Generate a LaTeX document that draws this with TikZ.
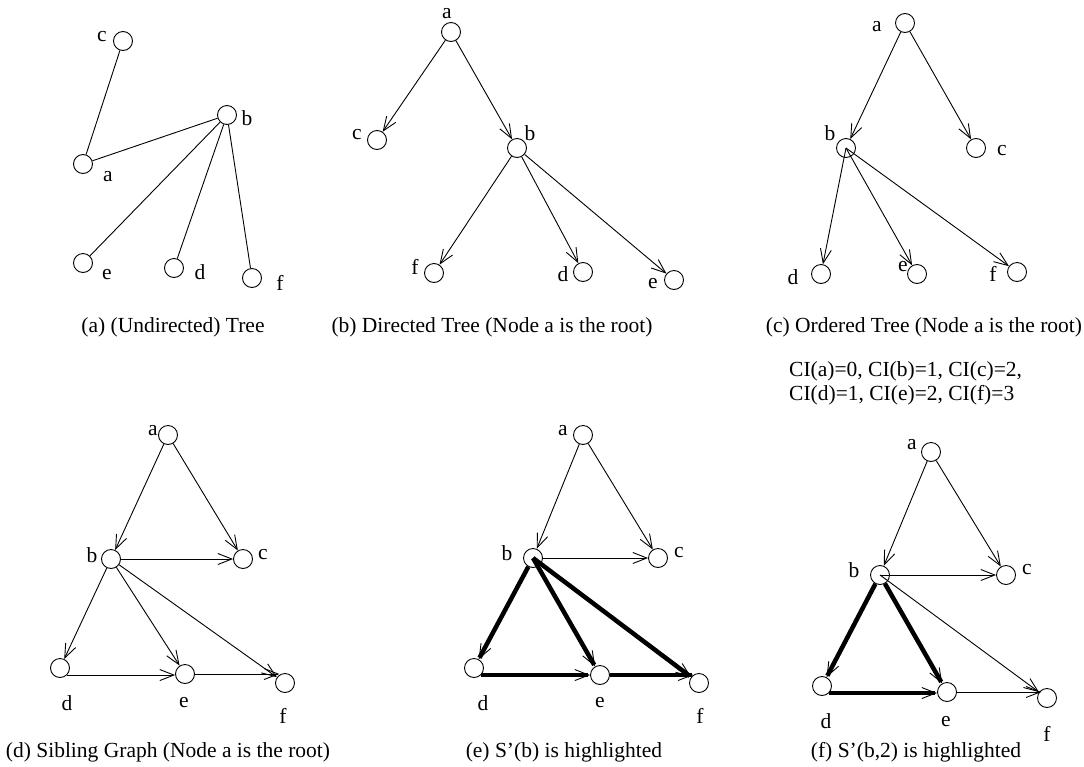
\documentclass[tikz,border=0pt]{standalone}
\usepackage{fontspec}
\setmainfont{Liberation Serif}
\usetikzlibrary{arrows.meta}
\begin{document}
\begin{tikzpicture}[x=1pt,y=-1pt,
  vx/.style={circle,draw,minimum size=19pt,inner sep=0pt,line width=0.9pt},
  lbl/.style={inner sep=0pt,font=\fontsize{21.5}{24}\selectfont},
  captxt/.style={inner sep=0pt,font=\fontsize{21.5}{24}\selectfont},
  ln/.style={line width=0.9pt},
  arr/.style={line width=0.9pt,-{Straight Barb[length=14pt,width=11pt,line width=0.9pt]}},
  tarr/.style={line width=4.5pt,-{Straight Barb[length=14pt,width=11pt,line width=0.9pt]}}]
\useasboundingbox (0,0) rectangle (1084,766);

% (a)
\node[vx] (A-c) at (123,41) {};
\node[vx] (A-b) at (227,115) {};
\node[vx] (A-a) at (83,164) {};
\node[vx] (A-e) at (83,263) {};
\node[vx] (A-d) at (174,268) {};
\node[vx] (A-f) at (252,278) {};
\node[lbl] (A-lc) at (102,37) {c};
\node[lbl] (A-lb) at (247,118) {b};
\node[lbl] (A-la) at (108,177) {a};
\node[lbl] (A-le) at (107,275) {e};
\node[lbl] (A-ld) at (200,272) {d};
\node[lbl] (A-lf) at (280,283) {f};
\draw[ln] (A-c) -- (A-a);
\draw[ln] (A-a) -- (A-b);
\draw[ln] (A-b) -- (A-e);
\draw[ln] (A-b) -- (A-d);
\draw[ln] (A-b) -- (A-f);
\node[captxt] (A-cap) at (173,327) {(a) (Undirected) Tree};

% (b)
\node[vx] (B-a) at (451,32) {};
\node[vx] (B-c) at (377,140) {};
\node[vx] (B-b) at (517,148) {};
\node[vx] (B-f) at (434,273) {};
\node[vx] (B-d) at (583,272) {};
\node[vx] (B-e) at (674,280) {};
\node[lbl] (B-la) at (447,14) {a};
\node[lbl] (B-lc) at (357,135) {c};
\node[lbl] (B-lb) at (530,133) {b};
\node[lbl] (B-lf) at (415,267) {f};
\node[lbl] (B-ld) at (563,274) {d};
\node[lbl] (B-le) at (653,284) {e};
\draw[arr] (B-a) -- (B-c);
\draw[arr] (B-a) -- (B-b);
\draw[arr] (B-b) -- (B-f);
\draw[arr] (B-b) -- (B-d);
\draw[arr] (B-b) -- (B-e);
\node[captxt] (B-cap) at (492,327) {(b) Directed Tree (Node a is the root)};

% (c)
\node[vx] (C-a) at (905,23) {};
\node[vx] (C-b) at (846,148) {};
\node[vx] (C-c) at (976,148) {};
\node[vx] (C-d) at (821,274) {};
\node[vx] (C-e) at (917,274) {};
\node[vx] (C-f) at (1017,272) {};
\node[lbl] (C-la) at (877,27) {a};
\node[lbl] (C-lb) at (830,133) {b};
\node[lbl] (C-lc) at (1002,151) {c};
\node[lbl] (C-ld) at (793,277) {d};
\node[lbl] (C-le) at (903,267) {e};
\node[lbl] (C-lf) at (993,274) {f};
\draw[arr] (C-a) -- (C-b);
\draw[arr] (C-a) -- (C-c);
\draw[arr] (C-b.center) -- (C-d);
\draw[arr] (C-b.center) -- (C-e);
\draw[arr] (C-b.center) -- (C-f);
\node[captxt] (C-cap) at (924,327) {(c) Ordered Tree (Node a is the root)};
\node[captxt,anchor=west] (C-ci1) at (789,371) {CI(a)=0, CI(b)=1, CI(c)=2,};
\node[captxt,anchor=west] (C-ci2) at (789,395) {CI(d)=1, CI(e)=2, CI(f)=3};

% (d)
\node[vx] (D-a) at (168,435) {};
\node[vx] (D-b) at (111,559) {};
\node[vx] (D-c) at (243,559) {};
\node[vx] (D-d) at (60,668) {};
\node[vx] (D-e) at (185,674) {};
\node[vx] (D-f) at (285,683) {};
\node[lbl] (D-la) at (153,431) {a};
\node[lbl] (D-lb) at (92,555) {b};
\node[lbl] (D-lc) at (263,555) {c};
\node[lbl] (D-ld) at (67,703) {d};
\node[lbl] (D-le) at (184,703) {e};
\node[lbl] (D-lf) at (283,716) {f};
\draw[arr] (D-a) -- (D-b);
\draw[arr] (D-a) -- (D-c);
\draw[arr] (D-b) -- (D-c);
\draw[arr] (D-b) -- (D-d);
\draw[arr] (D-b) -- (D-e);
\draw[arr] (D-b) -- (D-f);
\draw[arr] (D-d.-45) -- (D-d.-45 -| D-e.west);
\draw[arr] (D-e.east) -- (D-e.east -| D-f.125);
\node[captxt] (D-cap) at (168,752) {(d) Sibling Graph (Node a is the root)};

% (e)
\node[vx] (E-a) at (583,435) {};
\node[vx] (E-b) at (533,558) {};
\node[vx] (E-c) at (658,558) {};
\node[vx] (E-d) at (474,668) {};
\node[vx] (E-e) at (600,675) {};
\node[vx] (E-f) at (699,683) {};
\node[lbl] (E-la) at (563,431) {a};
\node[lbl] (E-lb) at (507,553) {b};
\node[lbl] (E-lc) at (679,553) {c};
\node[lbl] (E-ld) at (483,703) {d};
\node[lbl] (E-le) at (600,703) {e};
\node[lbl] (E-lf) at (700,716) {f};
\draw[arr] (E-a) -- (E-b);
\draw[arr] (E-a) -- (E-c);
\draw[arr] (E-b) -- (E-c);
\draw[tarr] (E-b) -- (E-d);
\draw[tarr] (E-b.center) -- (E-e);
\draw[tarr] (E-b.center) -- (E-f);
\draw[tarr] (E-d.-45) -- (E-d.-45 -| E-e.west);
\draw[tarr] (E-e.east) -- (E-e.east -| E-f.125);
\node[captxt] (E-cap) at (564,752) {(e) S’(b) is highlighted};

% (f)
\node[vx] (F-a) at (931,452) {};
\node[vx] (F-b) at (880,575) {};
\node[vx] (F-c) at (1006,575) {};
\node[vx] (F-d) at (822,686) {};
\node[vx] (F-e) at (947,692) {};
\node[vx] (F-f) at (1047,698) {};
\node[lbl] (F-la) at (912,445) {a};
\node[lbl] (F-lb) at (854,570) {b};
\node[lbl] (F-lc) at (1027,570) {c};
\node[lbl] (F-ld) at (826,721) {d};
\node[lbl] (F-le) at (946,722) {e};
\node[lbl] (F-lf) at (1047,734) {f};
\draw[arr] (F-a) -- (F-b);
\draw[arr] (F-a) -- (F-c);
\draw[arr] (F-b.center) -- (F-c);
\draw[arr] (F-b.center) -- (F-f);
\draw[arr] (F-e.east) -- (F-e.east -| F-f.125);
\draw[tarr] (F-b) -- (F-d);
\draw[tarr] (F-b) -- (F-e);
\draw[tarr] (F-d.-45) -- (F-d.-45 -| F-e.west);
\node[captxt] (F-cap) at (916,752) {(f) S’(b,2) is highlighted};
\end{tikzpicture}
\end{document}
